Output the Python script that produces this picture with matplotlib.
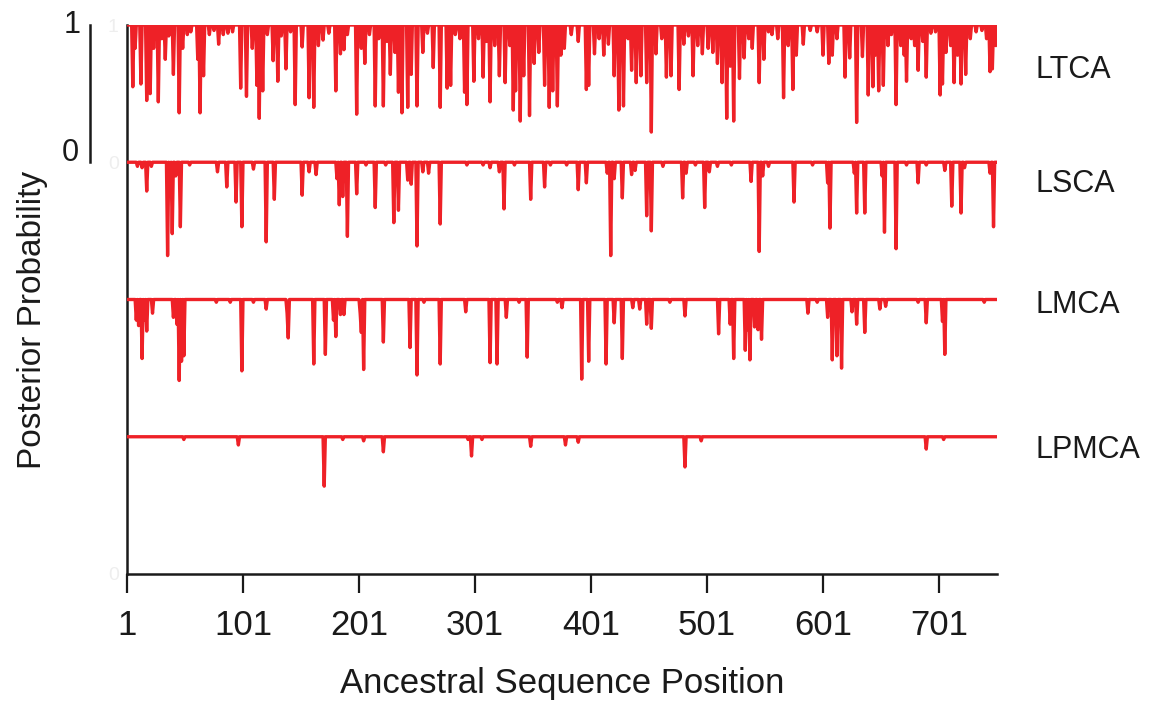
import numpy as np
import matplotlib
matplotlib.use("Agg")
import matplotlib.pyplot as plt
import matplotlib.transforms as mtransforms

plt.rcParams['font.family'] = ['Liberation Sans', 'DejaVu Sans']

n_positions = 751
track_names = ["LTCA", "LSCA", "LMCA", "LPMCA"]
xtick_values = [1, 101, 201, 301, 401, 501, 601, 701]

# dips below posterior probability 1 (position, value); all other positions = 1
ltca_pos = [6, 8, 13, 18, 21, 24, 28, 31, 34, 37, 41, 46, 49, 53, 56, 62, 64, 67, 72, 76, 80, 84, 88, 92,
            99, 104, 109, 113, 115, 118, 122, 127, 131, 134, 138, 142, 146, 152, 158, 162, 166, 170, 175,
            181, 185, 188, 191, 199, 203, 206, 210, 215, 218, 222, 225, 228, 232, 235, 238, 243, 246, 251,
            256, 260, 265, 271, 277, 280, 284, 288, 292, 294, 300, 304, 308, 311, 314, 318, 322, 327, 331,
            334, 336, 340, 343, 348, 352, 356, 361, 365, 368, 372, 375, 378, 384, 390, 397, 399, 404, 408,
            412, 416, 421, 425, 429, 433, 436, 440, 444, 449, 453, 457, 462, 466, 470, 477, 481, 485, 489,
            493, 497, 502, 506, 510, 514, 518, 521, 524, 529, 533, 537, 540, 546, 550, 554, 557, 562, 567,
            571, 575, 578, 584, 590, 596, 601, 606, 609, 613, 620, 624, 630, 635, 640, 644, 646, 649, 653,
            657, 660, 664, 668, 671, 673, 677, 680, 683, 687, 690, 694, 698, 702, 704, 707, 711, 714, 717,
            720, 724, 728, 733, 738, 742, 745, 747, 750]
ltca_val = [0.55, 0.83, 0.57, 0.45, 0.50, 0.83, 0.44, 0.90, 0.75, 0.92, 0.64, 0.36, 0.83, 0.93, 0.95, 0.75,
            0.36, 0.63, 0.93, 0.96, 0.86, 0.93, 0.94, 0.95, 0.54, 0.48, 0.83, 0.56, 0.32, 0.52, 0.93, 0.74,
            0.59, 0.92, 0.68, 0.95, 0.42, 0.84, 0.47, 0.40, 0.85, 0.89, 0.94, 0.52, 0.79, 0.82, 0.93, 0.35,
            0.83, 0.72, 0.93, 0.41, 0.90, 0.41, 0.88, 0.64, 0.80, 0.51, 0.36, 0.40, 0.64, 0.41, 0.80, 0.94,
            0.69, 0.40, 0.54, 0.56, 0.93, 0.90, 0.51, 0.42, 0.59, 0.90, 0.62, 0.88, 0.44, 0.85, 0.63, 0.58,
            0.85, 0.38, 0.52, 0.30, 0.63, 0.34, 0.72, 0.80, 0.56, 0.40, 0.52, 0.41, 0.78, 0.83, 0.93, 0.88,
            0.53, 0.56, 0.79, 0.90, 0.78, 0.86, 0.63, 0.38, 0.41, 0.90, 0.67, 0.58, 0.63, 0.58, 0.22, 0.79,
            0.90, 0.62, 0.63, 0.53, 0.86, 0.92, 0.63, 0.85, 0.79, 0.83, 0.80, 0.72, 0.58, 0.32, 0.70, 0.30,
            0.61, 0.76, 0.90, 0.83, 0.58, 0.75, 0.95, 0.93, 0.90, 0.47, 0.85, 0.53, 0.78, 0.86, 0.96, 0.95,
            0.78, 0.72, 0.78, 0.90, 0.62, 0.76, 0.29, 0.77, 0.49, 0.55, 0.78, 0.52, 0.56, 0.85, 0.93, 0.42,
            0.85, 0.78, 0.59, 0.90, 0.85, 0.67, 0.88, 0.62, 0.94, 0.95, 0.49, 0.57, 0.80, 0.85, 0.58, 0.78,
            0.57, 0.64, 0.90, 0.95, 0.96, 0.90, 0.66, 0.68, 0.85]

lsca_pos = [10, 14, 18, 22, 36, 38, 40, 43, 47, 55, 79, 87, 95, 100, 110, 121, 128, 152, 158, 164, 182, 184,
            187, 191, 199, 207, 215, 224, 231, 235, 243, 246, 251, 256, 261, 271, 294, 308, 314, 322, 326,
            335, 349, 361, 366, 380, 390, 397, 415, 418, 421, 428, 436, 439, 449, 453, 463, 480, 483, 491,
            499, 503, 510, 522, 539, 546, 549, 554, 576, 592, 605, 607, 628, 630, 637, 652, 654, 664, 673,
            683, 690, 706, 712, 720, 723, 745, 748]
lsca_val = [0.97, 0.96, 0.79, 0.97, 0.32, 0.88, 0.48, 0.90, 0.53, 0.98, 0.93, 0.82, 0.71, 0.53, 0.95, 0.42,
            0.73, 0.76, 0.93, 0.91, 0.88, 0.69, 0.75, 0.46, 0.77, 0.98, 0.67, 0.98, 0.56, 0.65, 0.87, 0.84,
            0.39, 0.93, 0.92, 0.55, 0.98, 0.98, 0.96, 0.93, 0.66, 0.98, 0.73, 0.82, 0.98, 0.98, 0.80, 0.85,
            0.92, 0.32, 0.88, 0.74, 0.91, 0.94, 0.61, 0.50, 0.97, 0.74, 0.92, 0.98, 0.67, 0.93, 0.97, 0.98,
            0.86, 0.35, 0.90, 0.97, 0.71, 0.98, 0.85, 0.52, 0.92, 0.63, 0.63, 0.90, 0.49, 0.37, 0.98, 0.85,
            0.98, 0.94, 0.68, 0.63, 0.96, 0.92, 0.53]

lmca_pos = [9, 11, 14, 16, 18, 23, 41, 44, 46, 48, 50, 78, 90, 100, 110, 121, 139, 140, 162, 172, 179, 181,
            185, 188, 202, 203, 205, 222, 245, 251, 257, 271, 293, 314, 320, 328, 339, 346, 372, 376, 393,
            399, 414, 421, 428, 437, 443, 449, 453, 469, 482, 511, 521, 524, 534, 536, 538, 542, 545, 548,
            588, 596, 605, 609, 613, 617, 626, 630, 637, 650, 655, 683, 690, 704, 706, 740]
lmca_val = [0.85, 0.81, 0.57, 0.85, 0.77, 0.90, 0.87, 0.82, 0.41, 0.55, 0.59, 0.98, 0.98, 0.48, 0.98, 0.93,
            0.90, 0.72, 0.53, 0.60, 0.85, 0.73, 0.89, 0.89, 0.90, 0.76, 0.49, 0.69, 0.65, 0.45, 0.98, 0.53,
            0.91, 0.54, 0.53, 0.87, 0.98, 0.58, 0.98, 0.94, 0.42, 0.55, 0.53, 0.83, 0.57, 0.94, 0.93, 0.82,
            0.79, 0.98, 0.88, 0.75, 0.82, 0.57, 0.63, 0.78, 0.56, 0.80, 0.78, 0.71, 0.90, 0.98, 0.87, 0.56,
            0.59, 0.50, 0.91, 0.82, 0.76, 0.93, 0.95, 0.98, 0.83, 0.84, 0.60, 0.98]

lpmca_pos = [50, 97, 171, 187, 205, 222, 295, 298, 307, 349, 379, 390, 482, 496, 690, 705]
lpmca_val = [0.98, 0.94, 0.64, 0.98, 0.97, 0.89, 0.98, 0.86, 0.98, 0.93, 0.94, 0.96, 0.78, 0.97, 0.91, 0.98]

track_dips = [(ltca_pos, ltca_val), (lsca_pos, lsca_val), (lmca_pos, lmca_val), (lpmca_pos, lpmca_val)]

RED = "#ee2127"
INK = "#1a1a1a"
fig = plt.figure(figsize=(11.55, 7.05), dpi=100)
ax = fig.add_axes([127 / 1155, 1 - 574 / 705, 870 / 1155, 549 / 705])

positions = np.arange(1, n_positions + 1)
n_tracks = len(track_names)
for k, (pos, val) in enumerate(track_dips):
    series = np.ones(n_positions)
    series[np.array(pos) - 1] = val
    offset = n_tracks - 1 - k
    ax.plot(positions, series + offset, color=RED, lw=2.4, zorder=3)

label_y = [3.67, 2.84, 1.96, 0.90]
for name, ly in zip(track_names, label_y):
    ax.text(1.044, ly, name, transform=ax.get_yaxis_transform(), fontsize=22,
            ha='left', va='center', color=INK)

ax.axhline(4, color='#bbbbbb', lw=0.8, ls=(0, (1, 3)), zorder=1)

ax.set_xlim(1, n_positions)
ax.set_ylim(0, 4)
ax.set_xticks(xtick_values)
ax.set_xticklabels([str(v) for v in xtick_values], fontsize=25)
ax.tick_params(axis='x', direction='out', length=13.5, width=1.6, pad=12, colors=INK)
ax.set_yticks([4, 3, 0])
ax.set_yticklabels(["1", "0", "0"], fontsize=14, color='#eeeeee')
ax.tick_params(axis='y', length=0, pad=6)
for s in ['top', 'right']:
    ax.spines[s].set_visible(False)
for s in ['left', 'bottom']:
    ax.spines[s].set_linewidth(1.8)
    ax.spines[s].set_color(INK)

ax.set_xlabel("Ancestral Sequence Position", fontsize=25, color=INK, va='center')
ax.xaxis.set_label_coords(0.5, (574 - 683) / 549)
ax.set_ylabel("Posterior Probability", fontsize=24, color=INK, va='center')
ax.yaxis.set_label_coords((33 - 127) / 870, (574 - 320) / 549)

# scale bar for a single track
bar_x = (90 - 127) / 870
trans = mtransforms.blended_transform_factory(ax.transAxes, ax.transData)
ax.plot([bar_x, bar_x], [3, 4], color=INK, lw=1.8, transform=trans, clip_on=False)
ax.text((72 - 127) / 870, 4.0, "1", transform=trans, fontsize=22, ha='center', va='center', color=INK)
ax.text((70 - 127) / 870, 3.07, "0", transform=trans, fontsize=22, ha='center', va='center', color=INK)

fig.savefig("out.png", dpi=100)
